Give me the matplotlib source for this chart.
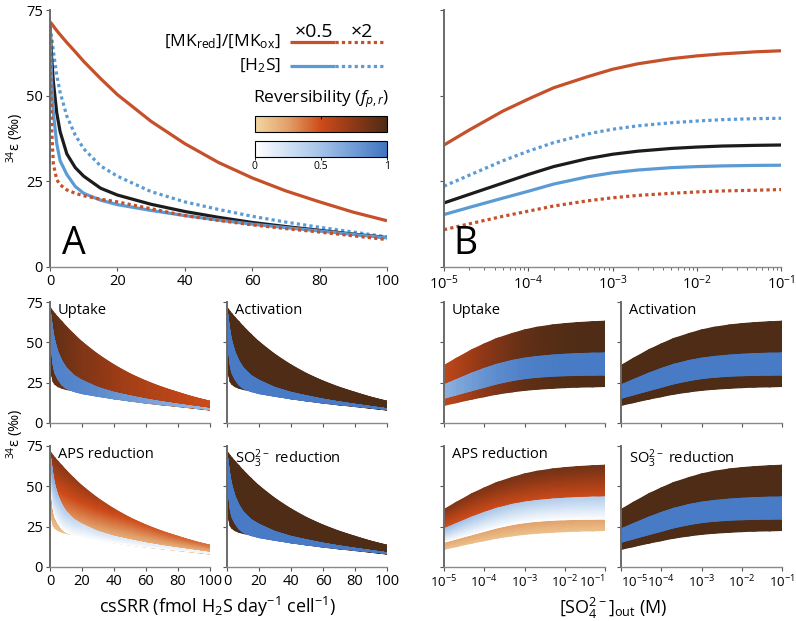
import numpy as np
import matplotlib.pyplot as plt
from matplotlib.colors import LinearSegmentedColormap
from matplotlib.cm import ScalarMappable

plt.rcParams['font.family'] = ['Open Sans', 'DejaVu Sans']
plt.rcParams['mathtext.fontset'] = 'custom'
plt.rcParams['mathtext.rm'] = 'Open Sans'
plt.rcParams['mathtext.it'] = 'Open Sans:italic'
plt.rcParams['mathtext.bf'] = 'Open Sans:bold'

# --- csSRR curves (panel A) ---
rate = [0, 0.5, 1, 2, 3, 5, 7.5, 10, 15, 20, 30, 40, 50, 60, 70, 80, 90, 100]
base_rate = [70, 61, 54, 45, 39.5, 33, 29, 26.5, 23, 21, 18.3, 16.2, 14.5, 13, 11.8, 10.7, 9.6, 8.6]
mk_half_rate = [71.5, 71, 70.3, 69, 67.8, 65.5, 62.8, 60, 55, 50.3, 42.5, 36, 30.5, 26, 22.2, 19, 16, 13.5]
mk_double_rate = [70, 40, 30, 25.5, 24, 22.5, 21.5, 20.8, 19.8, 19, 17, 15, 13.6, 12.3, 11.2, 10.2, 9.1, 8]
h2s_half_rate = [70, 54, 45, 36, 31, 27, 23.5, 21.5, 19.5, 18.2, 16.5, 15, 13.7, 12.5, 11.5, 10.5, 9.5, 8.5]
h2s_double_rate = [70, 67, 63, 56, 51, 44, 38.5, 34.5, 29.5, 26.5, 22, 19, 16.8, 14.8, 13.1, 11.6, 10.2, 8.8]

# --- sulfate curves (panel B) ---
conc = [1e-5, 2e-5, 5e-5, 1e-4, 2e-4, 5e-4, 1e-3, 2e-3, 5e-3, 1e-2, 2e-2, 5e-2, 1e-1]
base_conc = [18.7, 21.2, 24.5, 27, 29.3, 31.6, 32.9, 33.8, 34.6, 35, 35.3, 35.5, 35.6]
mk_half_conc = [35.6, 40, 45.5, 49, 52.3, 55.5, 57.7, 59.3, 60.8, 61.6, 62.2, 62.8, 63.1]
mk_double_conc = [10.9, 12.6, 14.8, 16.3, 17.8, 19.3, 20.2, 20.9, 21.5, 21.9, 22.2, 22.4, 22.6]
h2s_half_conc = [15.3, 17.4, 20.1, 22.1, 24.2, 26.3, 27.5, 28.3, 29, 29.3, 29.5, 29.65, 29.7]
h2s_double_conc = [23.6, 26.8, 31, 33.8, 36.3, 38.8, 40.2, 41.2, 42.1, 42.6, 43, 43.3, 43.4]

# --- reversibility of each step at band edges ---
rev_knots_rate = [0, 5, 20, 50, 100]
rev_knots_conc = [1e-5, 1e-4, 1e-3, 1e-2, 1e-1]
steps = ['Uptake', 'Activation', 'APS reduction', 'SO$_3^{2-}$ reduction']
# (mk bottom, mk top, h2s bottom, h2s top)
rev_rate = {
    'Uptake': ([0.95, 0.9, 0.8, 0.65, 0.5], [0.95, 0.9, 0.8, 0.65, 0.5],
               [0.9, 0.9, 0.88, 0.75, 0.55], [0.9, 0.9, 0.88, 0.75, 0.55]),
    'Activation': ([1] * 5, [1] * 5, [0.95] * 5, [0.95] * 5),
    'APS reduction': ([0.1] * 5, [0.8, 0.78, 0.7, 0.5, 0.38],
                      [0.0] * 5, [0.75, 0.45, 0.25, 0.15, 0.08]),
    'SO$_3^{2-}$ reduction': ([1] * 5, [1] * 5, [0.95] * 5, [0.95] * 5),
}
rev_conc = {
    'Uptake': ([0.55, 0.75, 0.92, 0.98, 1.0], [0.55, 0.75, 0.92, 0.98, 1.0],
               [0.6, 0.8, 0.92, 0.95, 0.95], [0.6, 0.8, 0.92, 0.95, 0.95]),
    'Activation': ([1] * 5, [1] * 5, [0.95] * 5, [0.95] * 5),
    'APS reduction': ([0.1] * 5, [0.78, 0.82, 0.85, 0.86, 0.86],
                      [0.0] * 5, [0.5, 0.45, 0.42, 0.4, 0.4]),
    'SO$_3^{2-}$ reduction': ([1] * 5, [1] * 5, [0.95] * 5, [0.95] * 5),
}

orange = '#c6502a'
blue = '#5b9bd5'
black = '#1c1c1c'
cm_orange = LinearSegmentedColormap.from_list(
    'orng', ['#f3d6a2', '#e2a06a', '#cd4b19', '#8e3816', '#4e2c15'])
cm_blue = LinearSegmentedColormap.from_list(
    'blu', ['#ffffff', '#a3c3e8', '#3f74c2'])

W, H = 796, 621
fig = plt.figure(figsize=(7.96, 6.21), dpi=100)


def box(x0, x1, ytop, ybot):
    return [x0 / W, 1 - ybot / H, (x1 - x0) / W, (ybot - ytop) / H]


def style(ax, log=False):
    for s in ['top', 'right']:
        ax.spines[s].set_visible(False)
    ax.spines['left'].set_color('#6a6a6a')
    ax.spines['left'].set_linewidth(1.4)
    ax.spines['bottom'].set_color('#8a8a8a')
    ax.spines['bottom'].set_linewidth(1.0)
    ax.tick_params(direction='out', length=3, width=0.8, color='#555555',
                   labelsize=10.5, pad=2)
    ax.tick_params(which='minor', length=1.8, width=0.6, color='#555555')
    ax.set_ylim(0, 75)
    ax.set_yticks([0, 25, 50, 75])
    if log:
        ax.set_xscale('log')
        ax.set_xlim(1e-5, 1e-1)
        ax.set_xticks([1e-5, 1e-4, 1e-3, 1e-2, 1e-1])
    else:
        ax.set_xlim(0, 100)
        ax.set_xticks([0, 20, 40, 60, 80, 100])


def curves(ax, x, base, mkh, mkd, hh, hd):
    lw = 2.3
    ax.plot(x, mkh, color=orange, lw=lw, solid_capstyle='butt')
    ax.plot(x, hd, color=blue, lw=lw, ls=(0, (1, 1)), dash_capstyle='butt')
    ax.plot(x, base, color=black, lw=lw)
    ax.plot(x, hh, color=blue, lw=lw)
    ax.plot(x, mkd, color=orange, lw=lw, ls=(0, (1, 1)), dash_capstyle='butt')


def band(ax, x, lo, hi, f_lo, f_hi, cmap, n=30):
    x = np.asarray(x, float)
    t = np.linspace(0, 1, n)[:, None]
    X = np.broadcast_to(x, (n, len(x)))
    Y = np.asarray(lo) + (np.asarray(hi) - np.asarray(lo)) * t
    C = np.asarray(f_lo) + (np.asarray(f_hi) - np.asarray(f_lo)) * t
    ax.pcolormesh(X, Y, C, cmap=cmap, vmin=0, vmax=1, shading='gouraud',
                  antialiased=True)


# ---------------- Panel A ----------------
axA = fig.add_axes(box(50, 387, 10, 267))
style(axA)
curves(axA, rate, base_rate, mk_half_rate, mk_double_rate, h2s_half_rate, h2s_double_rate)
axA.text(0.035, 0.015, 'A', transform=axA.transAxes, fontsize=27, va='bottom')

# legend
tr = axA.transAxes
axA.plot([0.712, 0.846], [0.875, 0.875], color=orange, lw=2.3, transform=tr, solid_capstyle='butt')
axA.plot([0.846, 0.994], [0.875, 0.875], color=orange, lw=2.3, ls=(0, (1, 1)), transform=tr)
axA.plot([0.712, 0.846], [0.782, 0.782], color=blue, lw=2.3, transform=tr, solid_capstyle='butt')
axA.plot([0.846, 0.994], [0.782, 0.782], color=blue, lw=2.3, ls=(0, (1, 1)), transform=tr)
axA.text(0.783, 0.915, '×0.5', transform=tr, ha='center', va='center', fontsize=14)
axA.text(0.926, 0.915, '×2', transform=tr, ha='center', va='center', fontsize=14)
axA.text(0.685, 0.875, '[MK$_{\\mathrm{red}}$]/[MK$_{\\mathrm{ox}}$]', transform=tr,
         ha='right', va='center', fontsize=12.5)
axA.text(0.685, 0.782, '[H$_2$S]', transform=tr, ha='right', va='center', fontsize=12.5)
axA.text(0.804, 0.652, 'Reversibility ($\\mathit{f}_{\\mathit{p,r}}$)', transform=tr,
         ha='center', va='center', fontsize=12.5)
cax1 = axA.inset_axes([0.608, 0.525, 0.392, 0.063])
cax2 = axA.inset_axes([0.608, 0.428, 0.392, 0.063])
for cax, cm in [(cax1, cm_orange), (cax2, cm_blue)]:
    cb = fig.colorbar(ScalarMappable(cmap=cm), cax=cax, orientation='horizontal')
    cb.outline.set_linewidth(0.8)
    cb.ax.tick_params(length=2, width=0.6, labelsize=7.5, pad=1)
cb.set_ticks([0, 0.5, 1])
cb.set_ticklabels(['0', '0.5', '1'])
cax1.set_xticks([0.5])
cax1.xaxis.set_ticks_position('top')
cax1.tick_params(direction='in', labeltop=False)

# ---------------- Panel B ----------------
axB = fig.add_axes(box(444, 781, 10, 267))
style(axB, log=True)
axB.tick_params(axis='y', labelleft=False)
curves(axB, conc, base_conc, mk_half_conc, mk_double_conc, h2s_half_conc, h2s_double_conc)
axB.text(0.027, 0.015, 'B', transform=axB.transAxes, fontsize=27, va='bottom')

# ---------------- small panels ----------------
rows = [(302, 423), (446, 567)]
cols_left = [(50, 210), (227, 387)]
cols_right = [(444, 605), (621, 782)]

for i, step in enumerate(steps):
    r, c = divmod(i, 2)
    ytop, ybot = rows[r]
    # csSRR side
    ax = fig.add_axes(box(cols_left[c][0], cols_left[c][1], ytop, ybot))
    style(ax)
    mb, mt, hb, ht = [np.interp(rate, rev_knots_rate, v) for v in rev_rate[step]]
    band(ax, rate, mk_double_rate, mk_half_rate, mb, mt, cm_orange)
    band(ax, rate, h2s_half_rate, h2s_double_rate, hb, ht, cm_blue)
    ax.text(0.05, 0.99, step, transform=ax.transAxes, fontsize=10.5, va='top')
    if c == 1:
        ax.tick_params(axis='y', labelleft=False)
    if r == 0:
        ax.tick_params(axis='x', labelbottom=False)
    # sulfate side
    ax = fig.add_axes(box(cols_right[c][0], cols_right[c][1], ytop, ybot))
    style(ax, log=True)
    ax.tick_params(axis='x', labelsize=9.5)
    lc = np.log10(conc)
    mb, mt, hb, ht = [np.interp(lc, np.log10(rev_knots_conc), v) for v in rev_conc[step]]
    band(ax, conc, mk_double_conc, mk_half_conc, mb, mt, cm_orange)
    band(ax, conc, h2s_half_conc, h2s_double_conc, hb, ht, cm_blue)
    ax.text(0.05, 0.99, step, transform=ax.transAxes, fontsize=10.5, va='top')
    ax.tick_params(axis='y', labelleft=False)
    if r == 0:
        ax.tick_params(axis='x', labelbottom=False)
    else:
        fig.canvas.draw()
        labels = ax.get_xticklabels()
        if c == 0:
            labels[-1].set_horizontalalignment('right')
            labels[-1].set_x(labels[-1].get_position()[0])
        else:
            labels[0].set_horizontalalignment('left')

# labels
ylab = '$^{34}$ε (‰)'
fig.text(15 / W, 1 - 138 / H, ylab, rotation=90, ha='center', va='center', fontsize=10.5)
fig.text(15 / W, 1 - 434 / H, ylab, rotation=90, ha='center', va='center', fontsize=10.5)
fig.text(218 / W, 1 - 607 / H, 'csSRR (fmol H$_2$S day$^{-1}$ cell$^{-1}$)',
         ha='center', va='center', fontsize=13)
fig.text(613 / W, 1 - 608 / H, '[SO$_4^{2-}$]$_{\\mathrm{out}}$ (M)',
         ha='center', va='center', fontsize=13)

fig.savefig('out.png', dpi=100)
